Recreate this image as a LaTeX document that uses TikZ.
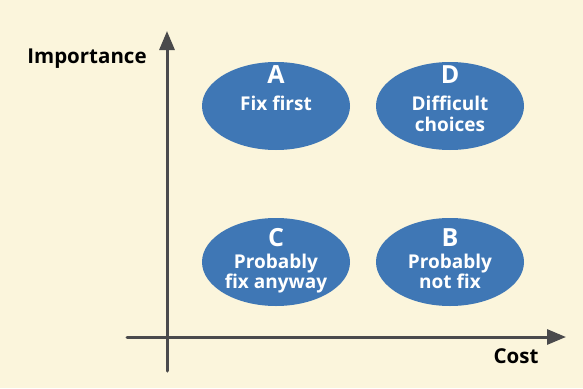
\documentclass[tikz,border=0pt]{standalone}
\usepackage{fontspec}
\setmainfont{Open Sans}
\usetikzlibrary{arrows.meta,shapes.geometric}
\definecolor{paper}{HTML}{FBF5DC}
\definecolor{blob}{HTML}{3F77B5}
\definecolor{axisgray}{HTML}{4A4A4C}
\tikzset{
  quad/.style={ellipse, fill=blob, minimum width=148pt, minimum height=88pt, inner sep=0pt},
  letter/.style={anchor=base, text=white, font=\bfseries\fontsize{25}{25}\selectfont},
  caption/.style={anchor=base, text=white, font=\bfseries\fontsize{19}{19}\selectfont},
  axislabel/.style={anchor=base, text=black, font=\bfseries\fontsize{20.5}{20.5}\selectfont},
  axisline/.style={draw=axisgray, line width=3pt, line cap=round},
  axisarrow/.style={axisline, -{Triangle[length=19pt, width=15pt]}}
}
\begin{document}
\begin{tikzpicture}[x=1pt, y=-1pt]
  \fill[paper] (0,0) rectangle (583,388);
  \useasboundingbox (0,0) rectangle (583,388);

  % axes
  \coordinate (ybot) at (167,371);
  \coordinate (ytop) at (167,31);
  \coordinate (xleft) at (127,337);
  \coordinate (xright) at (566,337);
  \draw[axisarrow] (ybot) -- (ytop);
  \draw[axisarrow] (xleft) -- (xright);

  \node[axislabel] (imp) at (87,63) {Importance};
  \node[axislabel] (cost) at (516,363) {Cost};

  % quadrants
  \node[quad] (qa) at (276,106) {};
  \node[quad] (qd) at (450,106) {};
  \node[quad] (qc) at (276,262) {};
  \node[quad] (qb) at (450,262) {};

  \node[letter] (la) at (276,83) {A};
  \node[caption] (ta) at (276,110) {Fix first};

  \node[letter] (ld) at (450,83) {D};
  \node[caption] (td1) at (450,110) {Difficult};
  \node[caption] (td2) at (450,131) {choices};

  \node[letter] (lc) at (276,246) {C};
  \node[caption] (tc1) at (276,268) {Probably};
  \node[caption] (tc2) at (276,288) {fix anyway};

  \node[letter] (lb) at (450,246) {B};
  \node[caption] (tb1) at (450,268) {Probably};
  \node[caption] (tb2) at (450,288) {not fix};
\end{tikzpicture}
\end{document}
